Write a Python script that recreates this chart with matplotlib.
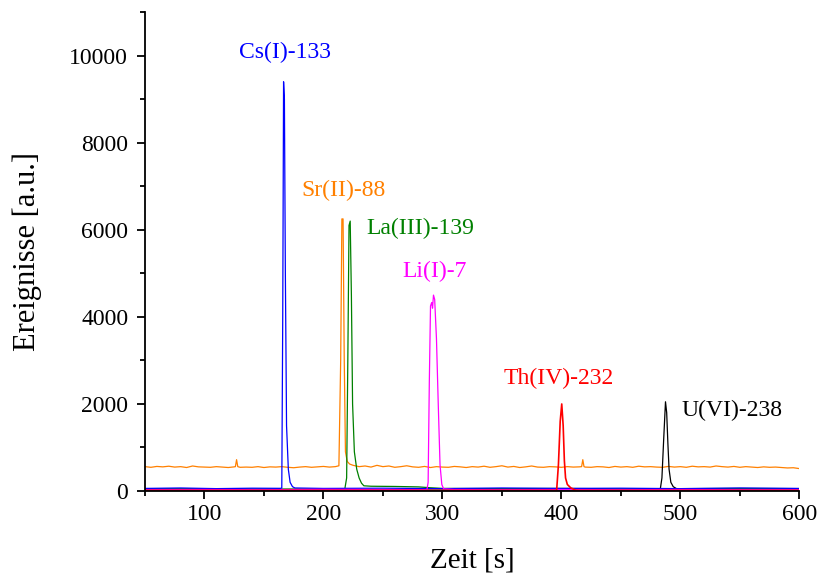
import matplotlib.pyplot as plt
from matplotlib.ticker import MultipleLocator

plt.rcParams["font.family"] = ["Liberation Serif", "DejaVu Serif"]

# Sr(II)-88 (orange, offset baseline)
sr_t = [50, 55, 60, 65, 70, 75, 80, 85, 90, 95, 100, 105, 110, 115, 120, 125, 126, 127, 128,
        130, 135, 140, 145, 150, 155, 160, 165, 170, 175, 180, 185, 190, 195, 200, 205, 210,
        213, 214.5, 215.5, 216.5, 217.5, 218.5, 220, 222, 225, 230, 235, 240, 245, 250, 255,
        260, 265, 270, 275, 280, 285, 290, 295, 300, 305, 310, 315, 320, 325, 330, 335, 340,
        345, 350, 355, 360, 365, 370, 375, 380, 385, 390, 395, 400, 405, 410, 415, 417, 418,
        419, 420, 425, 430, 435, 440, 445, 450, 455, 460, 465, 470, 475, 480, 485, 490, 495,
        500, 505, 510, 515, 520, 525, 530, 535, 540, 545, 550, 555, 560, 565, 570, 575, 580,
        585, 590, 595, 600]
sr_y = [560, 545, 565, 555, 570, 550, 560, 540, 575, 555, 550, 545, 560, 550, 540, 555, 560, 720, 560,
        545, 550, 545, 560, 540, 555, 550, 560, 545, 535, 550, 560, 545, 555, 565, 550, 560,
        580, 3000, 6250, 6250, 3000, 900, 680, 620, 590, 560, 575, 550, 590, 560, 575,
        545, 560, 580, 555, 545, 565, 540, 560, 550, 545, 565, 555, 540, 560, 550, 570, 545,
        560, 580, 550, 565, 540, 555, 575, 550, 545, 560, 555, 545, 560, 550, 555, 560, 720,
        560, 550, 545, 560, 555, 540, 565, 550, 560, 545, 570, 555, 560, 550, 545, 565, 550,
        560, 545, 570, 555, 560, 550, 575, 560, 550, 565, 545, 560, 550, 540, 555, 545, 550,
        540, 530, 535, 515]

# Cs(I)-133 (blue)
cs_t = [50, 80, 110, 140, 164, 165, 165.8, 166.5, 167.2, 168, 169, 170.5, 172, 174, 176,
        200, 250, 300, 350, 400, 450, 500, 550, 600]
cs_y = [60, 70, 55, 65, 62, 70, 4000, 9400, 9000, 5000, 1500, 500, 200, 100, 70,
        60, 65, 55, 70, 60, 65, 55, 70, 60]

# La(III)-139 (green)
la_t = [50, 100, 150, 200, 218, 219.5, 220.5, 221.5, 222.5, 223.5, 224.5, 226, 228, 230, 232,
        234, 240, 260, 280, 290, 300, 350, 400, 450, 500, 550, 600]
la_y = [50, 55, 45, 50, 50, 300, 3000, 6100, 6200, 4500, 2000, 900, 500, 300, 180,
        120, 110, 105, 95, 75, 60, 55, 60, 50, 55, 60, 55]

# Li(I)-7 (magenta)
li_t = [50, 100, 150, 200, 250, 287, 288, 289, 290, 291, 291.7, 292.5, 293.5, 295, 296.5,
        298, 299.5, 301, 310, 350, 400, 450, 500, 550, 600]
li_y = [30, 35, 30, 40, 35, 30, 200, 2500, 4250, 4330, 4200, 4500, 4400, 3500, 2000,
        600, 150, 50, 35, 30, 35, 30, 35, 30, 30]

# Th(IV)-232 (red)
th_t = [50, 396, 397.5, 399, 400.3, 401.5, 402.5, 403.5, 405, 408, 412, 415, 600]
th_y = [15, 15, 600, 1600, 2000, 1500, 700, 300, 150, 70, 20, 15, 15]

# U(VI)-238 (black)
u_t = [50, 483, 484.5, 486, 487.5, 488.5, 489.5, 490.5, 492, 494, 497, 500, 600]
u_y = [20, 20, 300, 1200, 2050, 1800, 1100, 500, 200, 100, 50, 25, 20]

labels = ["Cs(I)-133", "Sr(II)-88", "La(III)-139", "Li(I)-7", "Th(IV)-232", "U(VI)-238"]
label_x = [168, 216.5, 281, 293.5, 397.5, 543]
label_y = [10070, 6900, 6030, 5050, 2590, 1860]
colors = ["#0000FF", "#FF8000", "#008000", "#FF00FF", "#FF0000", "#000000"]

fig = plt.figure(figsize=(8.19, 5.77), dpi=100)
ax = fig.add_axes([0.177, 0.149, 0.799, 0.83])

ax.plot(sr_t, sr_y, color=colors[1], lw=0.9)
ax.plot(u_t, u_y, color=colors[5], lw=0.9)
ax.plot(la_t, la_y, color=colors[2], lw=0.9)
ax.plot(cs_t, cs_y, color=colors[0], lw=0.9)
ax.plot(li_t, li_y, color=colors[3], lw=0.9)
ax.plot(th_t, th_y, color=colors[4], lw=1.2)

for text, x, y, c in zip(labels, label_x, label_y, colors):
    ax.text(x, y, text, color=c, fontsize=17, ha="center", va="center")

ax.set_xlim(50, 600)
ax.set_ylim(0, 11000)
ax.xaxis.set_major_locator(MultipleLocator(100))
ax.xaxis.set_minor_locator(MultipleLocator(50))
ax.yaxis.set_minor_locator(MultipleLocator(1000))
ax.set_yticks(range(0, 10001, 2000))
ax.tick_params(which="major", direction="out", length=6, width=1.3, labelsize=17)
ax.tick_params(axis="y", which="major", pad=6)
ax.tick_params(which="minor", direction="out", length=3.5, width=1.3)
for side in ["top", "right"]:
    ax.spines[side].set_visible(False)
for side in ["left", "bottom"]:
    ax.spines[side].set_linewidth(1.3)

ax.set_xlabel("Zeit [s]", fontsize=21, labelpad=16)
ax.set_ylabel("Ereignisse [a.u.]", fontsize=22, labelpad=20)

fig.savefig("out.png", dpi=100)
